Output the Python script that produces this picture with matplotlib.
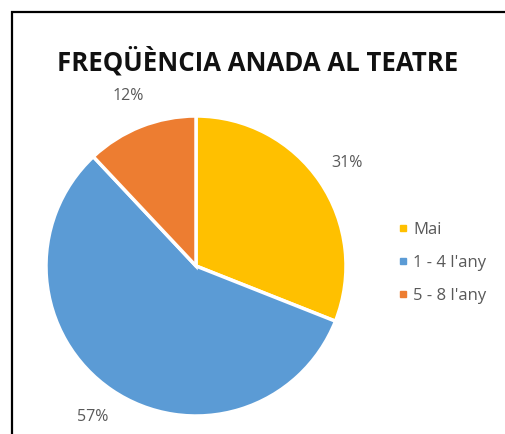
import matplotlib.pyplot as plt
from matplotlib.lines import Line2D

plt.rcParams['font.family'] = ['Open Sans', 'DejaVu Sans']

categories = ['Mai', "1 - 4 l'any", "5 - 8 l'any"]
values = [31, 57, 12]
colors = ['#FFC000', '#5B9BD5', '#ED7D31']
title = 'FREQÜÈNCIA ANADA AL TEATRE'

W, H = 506, 434
fig = plt.figure(figsize=(W / 100, H / 100), dpi=100)
ax = fig.add_axes([0, 0, 1, 1])

wedges, texts, autotexts = ax.pie(
    values, colors=colors, startangle=90, counterclock=False,
    center=(196, H - 266), radius=150, autopct='%1.0f%%', pctdistance=1.22,
    wedgeprops=dict(edgecolor='white', linewidth=2.5),
    textprops=dict(color='#595959', fontsize=11.5))
ax.set_xlim(0, W)
ax.set_ylim(0, H)
ax.set_aspect('equal')
ax.axis('off')

ax.text(258, H - 62, title, ha='center', va='center', fontsize=18.5,
        fontweight='bold', color='#111111')

# frame (only left and top visible in the crop)
ax.plot([12, 12, W + 5], [-5, H - 12, H - 12], color='black', lw=1.6,
        solid_joinstyle='miter', clip_on=False)

handles = [Line2D([], [], marker='s', linestyle='none', markersize=5,
                  markerfacecolor=c, markeredgecolor=c) for c in colors]
fig.legend(handles, categories, loc='center left', bbox_to_anchor=(380 / W, 1 - 263 / H),
           frameon=False, fontsize=12, labelcolor='#595959', handletextpad=0.1,
           labelspacing=1.0, handlelength=1.0)

fig.savefig('out.png', dpi=100)
